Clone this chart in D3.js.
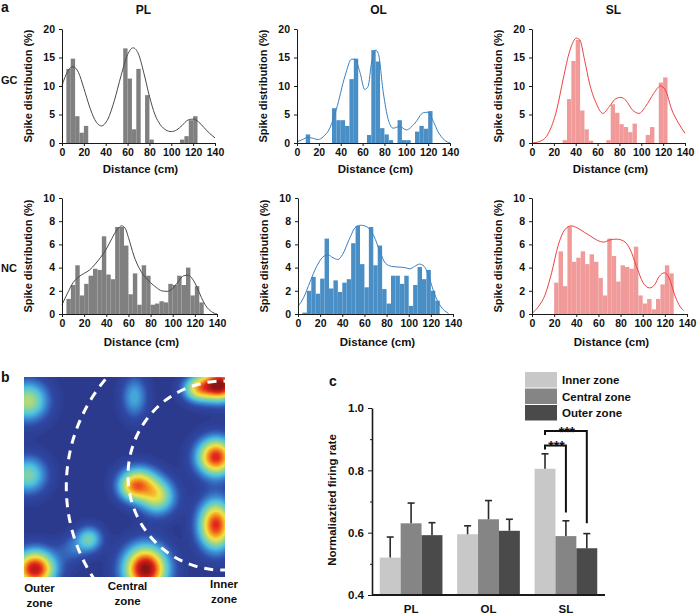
<!DOCTYPE html>
<html lang="en">
<head>
<meta charset="utf-8">
<script src="https://d3js.org/d3.v7.min.js"></script>
<style>
  body { margin: 0; background: #fff; }
  svg { display: block; font-family: "Liberation Sans", Arial, Helvetica, sans-serif; }
  text { fill: #111; font-weight: bold; }
  .axis path, .axis line { stroke: #1a1a1a; }
  .axis text { font-size: 10.5px; font-weight: bold; fill: #111; }
</style>
</head>
<body>
<svg width="698" height="614"></svg>
<script>
// ---------- panel a: spike distribution histograms (4 cm bins, 0-140 cm) ----------
const BIN = 4;
const tracks = ["PL", "OL", "SL"];
const distanceTicks = [0, 20, 40, 60, 80, 100, 120, 140];
const gcTicks = [0, 5, 10, 15, 20];
const ncTicks = [0, 2, 4, 6, 8, 10];

const plGC = [0, 13.0, 14.8, 4.7, 1.8, 3.0, 0, 0, 0, 0, 0, 0, 0, 0, 16.6, 11.3, 2.4, 13.0, 0, 8.4, 0.6,
  0, 0, 0, 0, 0, 0, 0.6, 1.2, 4.0, 4.7, 0, 0, 0, 0];
const olGC = [0, 0, 1.5, 0, 0, 0, 0, 0, 6.1, 4.0, 4.0, 3.0, 11.2, 14.8, 0, 0, 1.4, 16.3, 14.3, 2.6, 1.5,
  0.5, 0, 4.0, 0.5, 0.5, 0, 2.0, 3.0, 2.5, 5.6, 0, 0, 0, 0];
const slGC = [0, 0, 0, 0, 0, 0, 0, 0.5, 7.7, 14.4, 18.1, 5.7, 2.4, 0.4, 0, 0, 0, 0.5, 6.8, 5.3, 3.3,
  2.8, 1.9, 3.4, 0, 0, 1.4, 2.8, 0, 10.6, 11.5, 0, 0, 0, 0];
const plNC = [0, 1.3, 2.5, 4.2, 1.6, 2.6, 3.3, 3.9, 3.8, 6.7, 3.4, 3.0, 7.5, 7.5, 5.9, 1.7, 3.5, 0.8, 4.2,
  3.3, 0.8, 0.9, 1.1, 1.0, 2.6, 2.5, 3.3, 2.5, 4.0, 1.6, 2.4, 1.0, 0, 0, 0];
const olNC = [0, 0.12, 2.0, 3.2, 1.75, 3.05, 6.5, 2.2, 2.9, 1.9, 2.7, 3.0, 6.1, 7.6, 4.3, 2.3, 7.5, 4.2,
  5.9, 2.15, 0.9, 3.3, 3.3, 2.6, 3.3, 0.7, 2.5, 4.05, 3.0, 3.8, 2.0, 1.15, 0, 0, 0];
const slNC = [0, 0, 0, 0, 0, 2.7, 5.4, 2.4, 7.55, 4.5, 4.85, 5.4, 4.3, 5.15, 4.5, 3.1, 1.6, 6.5, 5.0,
  2.8, 4.2, 4.05, 3.9, 5.8, 1.6, 0.9, 1.3, 0.4, 1.3, 2.55, 4.2, 3.5, 0, 0, 0];

// fitted density curves [distance cm, %]
const plGCfit = [[0,10.1],[5,12.5],[10,13.4],[15,12.4],[20,9.6],[25,6.5],[30,4.1],[36,3.0],[42,4.2],
  [48,7.5],[54,11.8],[60,15.5],[65,16.7],[70,15.6],[75,12.2],[80,8.2],[85,5.0],[90,3.2],[95,2.3],
  [100,2.0],[105,2.3],[110,3.1],[115,4.0],[120,4.2],[125,3.7],[130,2.7],[135,1.7],[140,0.9]];
const olGCfit = [[0,0.2],[5,0.6],[10,1.0],[15,0.8],[19.5,0.6],[24,1.1],[30,2.6],[36,5.9],[44,11.8],
  [50,14.7],[53,14.7],[57.6,12.4],[62,9.4],[65,9.9],[68.3,14.2],[72,16.3],[74.4,15.7],[79,8.8],
  [83.5,4.1],[88,2.6],[94,2.9],[100,2.3],[108,3.5],[115.5,5.3],[120,5.4],[124.7,3.8],[129,2.0],
  [135,0.5],[140,0]];
const slGCfit = [[0,0],[7.5,0.3],[15,1.7],[22.6,5.8],[28.6,11.3],[34.6,16.2],[40.7,18.4],[43.7,18.1],
  [48.2,14.5],[52.7,10.4],[58.7,7.0],[64.8,5.2],[70.8,6.4],[76.8,7.8],[81.3,8.0],[85.8,7.5],
  [91.9,5.8],[97.9,5.2],[103.9,6.4],[111.4,8.7],[117.5,10.0],[122,9.3],[128,5.8],[134,3.5],[140,1.7]];
const plNCfit = [[0,0.8],[5,1.8],[10,2.7],[15,3.2],[20,3.5],[25,3.8],[30,4.3],[35,4.9],[40,5.6],
  [45,6.5],[50,7.3],[54,7.6],[57,7.4],[60,6.6],[65,5.0],[70,3.9],[75,3.2],[80,2.7],[85,2.3],[90,2.0],
  [95,1.95],[100,2.2],[105,2.8],[110,3.3],[114,3.35],[118,3.0],[122,2.3],[126,1.4],[130,0.7],
  [135,0.2],[140,0]];
const olNCfit = [[0,0.65],[5,1.4],[11,2.8],[16.8,4.1],[23.6,5.0],[27,5.1],[31.6,4.85],[36,4.7],
  [40.4,5.15],[46.3,6.45],[52.2,7.5],[56.6,7.65],[62.5,7.5],[68.4,6.75],[74.3,5.3],[78.8,4.4],
  [84.7,4.1],[90.6,4.05],[96.5,4.0],[100.9,3.9],[105.3,4.1],[109.7,4.3],[114,4.1],[118.6,3.1],
  [123,1.8],[129,0.65],[136,0.05]];
const slNCfit = [[0,0.05],[5.9,0.65],[11.8,1.65],[17.7,3.55],[23.6,5.9],[29.5,7.25],[35.4,7.6],
  [41.3,7.4],[47.2,7.05],[53.1,6.7],[59,6.35],[64.9,6.2],[70.8,6.4],[76.7,6.45],[82.6,6.3],
  [88.5,5.6],[94.4,4.1],[100.3,2.7],[106.2,2.25],[110.6,2.5],[115,3.25],[119.5,3.55],[123.9,3.1],
  [128.3,1.8],[132.7,0.8],[137,0.3]];

// ---------- panel b: firing fields of the example rate map ----------
// [x, y (fraction of arena), peak, sigma x, sigma y]
const fields = [
  [0.02, 0.12, 0.5, 0.07, 0.07],
  [0.02, 0.49, 0.42, 0.065, 0.065],
  [0.055, 0.96, 0.92, 0.07, 0.065],
  [0.55, 0.10, 0.28, 0.045, 0.075],
  [0.975, 0.04, 1.0, 0.065, 0.055],
  [0.86, 0.06, 0.5, 0.05, 0.045],
  [0.955, 0.40, 0.86, 0.066, 0.066],
  [0.57, 0.53, 0.58, 0.066, 0.058],
  [0.665, 0.60, 0.5, 0.062, 0.062],
  [0.53, 0.56, 0.22, 0.045, 0.045],
  [0.955, 0.74, 0.85, 0.06, 0.085],
  [0.325, 0.81, 0.38, 0.045, 0.045],
  [0.24, 0.86, 0.15, 0.05, 0.05],
  [0.605, 0.96, 1.0, 0.075, 0.08]
];
const zoneNames = ["Outer zone", "Central zone", "Inner zone"];

// ---------- panel c: normalized firing rate ----------
const zones = ["Inner zone", "Central zone", "Outer zone"];
const rateMean = {
  "Inner zone":   [0.52, 0.595, 0.805],
  "Central zone": [0.63, 0.643, 0.589],
  "Outer zone":   [0.592, 0.606, 0.55]
};
const rateUpper = {
  "Inner zone":   [0.586, 0.622, 0.853],
  "Central zone": [0.695, 0.703, 0.638],
  "Outer zone":   [0.632, 0.643, 0.597]
};
const rateTicks = [0.4, 0.6, 0.8, 1.0];

const svg = d3.select("svg");

// ================= panel a =================
const trackColors = {
  PL: { bar: "#808080", line: "#4a4a4a" },
  OL: { bar: "#4a8ec6", line: "#3a7fc0" },
  SL: { bar: "#f09a9a", line: "#ee4040" }
};

const rows = [
  { type: "GC", top: 29, bottom: 143, ymax: 20, ticks: gcTicks, width: 153, cols: [62, 297, 532],
    bars: [plGC, olGC, slGC], fits: [plGCfit, olGCfit, slGCfit], titleY: 173, typeY: 84 },
  { type: "NC", top: 198, bottom: 314, ymax: 10, ticks: ncTicks, width: 155, cols: [62, 298, 532],
    bars: [plNC, olNC, slNC], fits: [plNCfit, olNCfit, slNCfit], titleY: 346, typeY: 272 }
];

rows.forEach((row, ri) => {
  svg.append("text").attr("x", 1).attr("y", row.typeY)
    .style("font-size", "11px").text(row.type);

  tracks.forEach((tr, ci) => {
    const x0 = row.cols[ci];
    const x = d3.scaleLinear().domain([0, 140]).range([x0, x0 + row.width]);
    const y = d3.scaleLinear().domain([0, row.ymax]).range([row.bottom, row.top]);
    const g = svg.append("g");

    const binData = row.bars[ci].map((v, i) => ({ v, i })).filter(d => d.v > 0);
    g.selectAll("rect").data(binData).join("rect")
      .attr("x", d => x(d.i * BIN))
      .attr("width", d => x((d.i + 1) * BIN) - x(d.i * BIN))
      .attr("y", d => y(d.v))
      .attr("height", d => y(0) - y(d.v))
      .attr("fill", trackColors[tr].bar);

    g.append("path")
      .datum(row.fits[ci])
      .attr("fill", "none")
      .attr("stroke", trackColors[tr].line)
      .attr("stroke-width", 1)
      .attr("d", d3.line().x(d => x(d[0])).y(d => y(d[1])).curve(d3.curveMonotoneX));

    g.append("g").attr("class", "axis")
      .attr("transform", `translate(0,${row.bottom})`)
      .call(d3.axisBottom(x).tickValues(distanceTicks).tickSize(3).tickSizeOuter(0).tickPadding(3));

    g.append("g").attr("class", "axis")
      .attr("transform", `translate(${x0},0)`)
      .call(d3.axisLeft(y).tickValues(row.ticks).tickSize(3).tickSizeOuter(0).tickPadding(4));

    g.append("text")
      .attr("transform", `translate(${x0 - 30},${(row.top + row.bottom) / 2}) rotate(-90)`)
      .attr("text-anchor", "middle")
      .style("font-size", "11px")
      .text("Spike distribution (%)");

    g.append("text")
      .attr("x", x0 + row.width / 2 + 2).attr("y", row.titleY)
      .attr("text-anchor", "middle")
      .style("font-size", "11.5px")
      .text("Distance (cm)");

    if (ri === 0) {
      g.append("text")
        .attr("x", x0 + row.width / 2 + 5).attr("y", 14)
        .attr("text-anchor", "middle")
        .style("font-size", "12px")
        .text(tr);
    }
  });
});

svg.append("text").attr("x", 1).attr("y", 12).style("font-size", "14px").text("a");

// ================= panel b =================
const mapX = 24, mapY = 377, mapW = 201, mapH = 200;
const N = 200;
const values = new Float64Array(N * N);
for (let j = 0; j < N; j++) {
  for (let i = 0; i < N; i++) {
    const fx = (i + 0.5) / N, fy = (j + 0.5) / N;
    let s = 0;
    for (const [bx, by, a, sx, sy] of fields) {
      const dx = fx - bx, dy = fy - by;
      s += a * Math.exp(-(dx * dx) / (2 * sx * sx) - (dy * dy) / (2 * sy * sy));
    }
    values[j * N + i] = s;
  }
}

const jet = d3.scaleLinear()
  .domain([0, 0.1, 0.2, 0.32, 0.45, 0.6, 0.72, 0.85, 1])
  .range(["#2c3a8e", "#2f4aa6", "#3b7fcc", "#4cc4e2", "#96d591", "#f2e543", "#f5921f", "#e2241c", "#861313"])
  .clamp(true);

const bg = svg.append("g");
bg.append("clipPath").attr("id", "mapClip")
  .append("rect").attr("x", mapX).attr("y", mapY).attr("width", mapW).attr("height", mapH);

const mapG = bg.append("g").attr("clip-path", "url(#mapClip)");
mapG.append("rect").attr("x", mapX).attr("y", mapY).attr("width", mapW).attr("height", mapH)
  .attr("fill", jet(0));

const contours = d3.contours().size([N, N]).thresholds(d3.range(0.02, 1.0, 0.02))(values);
mapG.append("g")
  .attr("transform", `translate(${mapX},${mapY}) scale(${mapW / N},${mapH / N})`)
  .selectAll("path").data(contours).join("path")
  .attr("d", d3.geoPath())
  .attr("fill", d => jet(d.value + 0.01));

// dashed zone boundaries (arcs of the circular track)
const arcs = [
  { cx: 233.3, cy: 486.7, r: 167, a0: 140, a1: 228 },
  { cx: 222.5, cy: 475.6, r: 94.5, a0: 86, a1: 274 }
];
arcs.forEach(a => {
  const p = d3.path();
  p.arc(a.cx, a.cy, a.r, a.a0 * Math.PI / 180, a.a1 * Math.PI / 180);
  mapG.append("path").attr("d", p.toString())
    .attr("fill", "none").attr("stroke", "#fff").attr("stroke-width", 3)
    .attr("stroke-dasharray", "9 7");
});

const zoneLabelX = [39.5, 127.5, 224];
const zoneLabelY = [592, 590, 588];
zoneNames.forEach((z, i) => {
  const t = svg.append("text").attr("text-anchor", "middle").style("font-size", "11.5px");
  const parts = z.split(" ");
  parts.forEach((w, k) => {
    t.append("tspan").attr("x", zoneLabelX[i]).attr("y", zoneLabelY[i] + k * 14.5)
      .text(k === 0 ? w : w.toLowerCase());
  });
});

svg.append("text").attr("x", 1).attr("y", 382).style("font-size", "14px").text("b");

// ================= panel c =================
const xc = d3.scaleBand().domain(tracks).range([372, 605]).paddingInner(0.19).paddingOuter(0.1);
const xz = d3.scaleBand().domain(zones).range([0, xc.bandwidth()]);
const yc = d3.scaleLinear().domain([0.4, 1.0]).range([595, 408]);
const zoneColors = { "Inner zone": "#c8c8c8", "Central zone": "#858585", "Outer zone": "#4a4a4a" };

const barData = [];
zones.forEach(z => tracks.forEach((t, i) => {
  barData.push({ zone: z, track: t, mean: rateMean[z][i], upper: rateUpper[z][i] });
}));

const gc = svg.append("g");
gc.selectAll("rect.bar").data(barData).join("rect").attr("class", "bar")
  .attr("x", d => xc(d.track) + xz(d.zone))
  .attr("width", xz.bandwidth())
  .attr("y", d => yc(d.mean))
  .attr("height", d => yc(0.4) - yc(d.mean))
  .attr("fill", d => zoneColors[d.zone]);

const cx = d => xc(d.track) + xz(d.zone) + xz.bandwidth() / 2;
gc.selectAll("line.err").data(barData).join("line").attr("class", "err")
  .attr("x1", cx).attr("x2", cx)
  .attr("y1", d => yc(d.mean)).attr("y2", d => yc(d.upper))
  .attr("stroke", "#2a2a2a").attr("stroke-width", 1.6);
gc.selectAll("line.cap").data(barData).join("line").attr("class", "cap")
  .attr("x1", d => cx(d) - 3.5).attr("x2", d => cx(d) + 3.5)
  .attr("y1", d => yc(d.upper)).attr("y2", d => yc(d.upper))
  .attr("stroke", "#2a2a2a").attr("stroke-width", 1.6);

const yAx = gc.append("g").attr("class", "axis").attr("transform", "translate(372,0)")
  .call(d3.axisLeft(yc).tickValues(rateTicks).tickFormat(d3.format(".1f")).tickSize(4).tickSizeOuter(0).tickPadding(4));
yAx.select(".domain").attr("stroke-width", 1.6);
yAx.selectAll("text").style("font-size", "11.5px");
gc.append("g").attr("class", "axis").attr("transform", "translate(372,0)")
  .call(d3.axisLeft(yc).tickValues([0.5, 0.7, 0.9]).tickFormat("").tickSize(2).tickSizeOuter(0))
  .select(".domain").remove();

const xAx = gc.append("g").attr("class", "axis").attr("transform", "translate(0,595)")
  .call(d3.axisBottom(xc).tickSize(0).tickPadding(9.5));
xAx.select(".domain").attr("stroke-width", 2).attr("d", "M372,0H605");
xAx.selectAll("text").style("font-size", "11.5px");

gc.append("text")
  .attr("transform", "translate(336,500) rotate(-90)")
  .attr("text-anchor", "middle")
  .style("font-size", "11.5px")
  .text("Normaliaztied firing rate");

// legend
const lg = gc.append("g").selectAll("g").data(zones).join("g")
  .attr("transform", (d, i) => `translate(525,${372 + i * 16.5})`);
lg.append("rect").attr("width", 32).attr("height", 15.5).attr("fill", d => zoneColors[d]);
lg.append("text").attr("x", 37).attr("y", 12).style("font-size", "11.5px").text(d => d);

// significance brackets
const sig = [
  { from: "Inner zone", to: "Central zone", level: 0.88, drop: 0.665, label: "***" },
  { from: "Inner zone", to: "Outer zone", level: 0.926, drop: 0.63, label: "***" }
];
sig.forEach(s => {
  const xa = xc("SL") + xz(s.from) + xz.bandwidth() / 2;
  const xb = xc("SL") + xz(s.to) + xz.bandwidth() / 2;
  const yl = yc(s.level);
  gc.append("path")
    .attr("d", `M${xa},${yl + 4}V${yl}H${xb}V${yc(s.drop)}`)
    .attr("fill", "none").attr("stroke", "#111").attr("stroke-width", 2);
  gc.append("text").attr("x", (xa + xb) / 2 + 1).attr("y", yl + 6)
    .attr("text-anchor", "middle").style("font-size", "14px").text(s.label);
});

svg.append("text").attr("x", 329).attr("y", 386).style("font-size", "14px").text("c");
</script>
</body>
</html>
